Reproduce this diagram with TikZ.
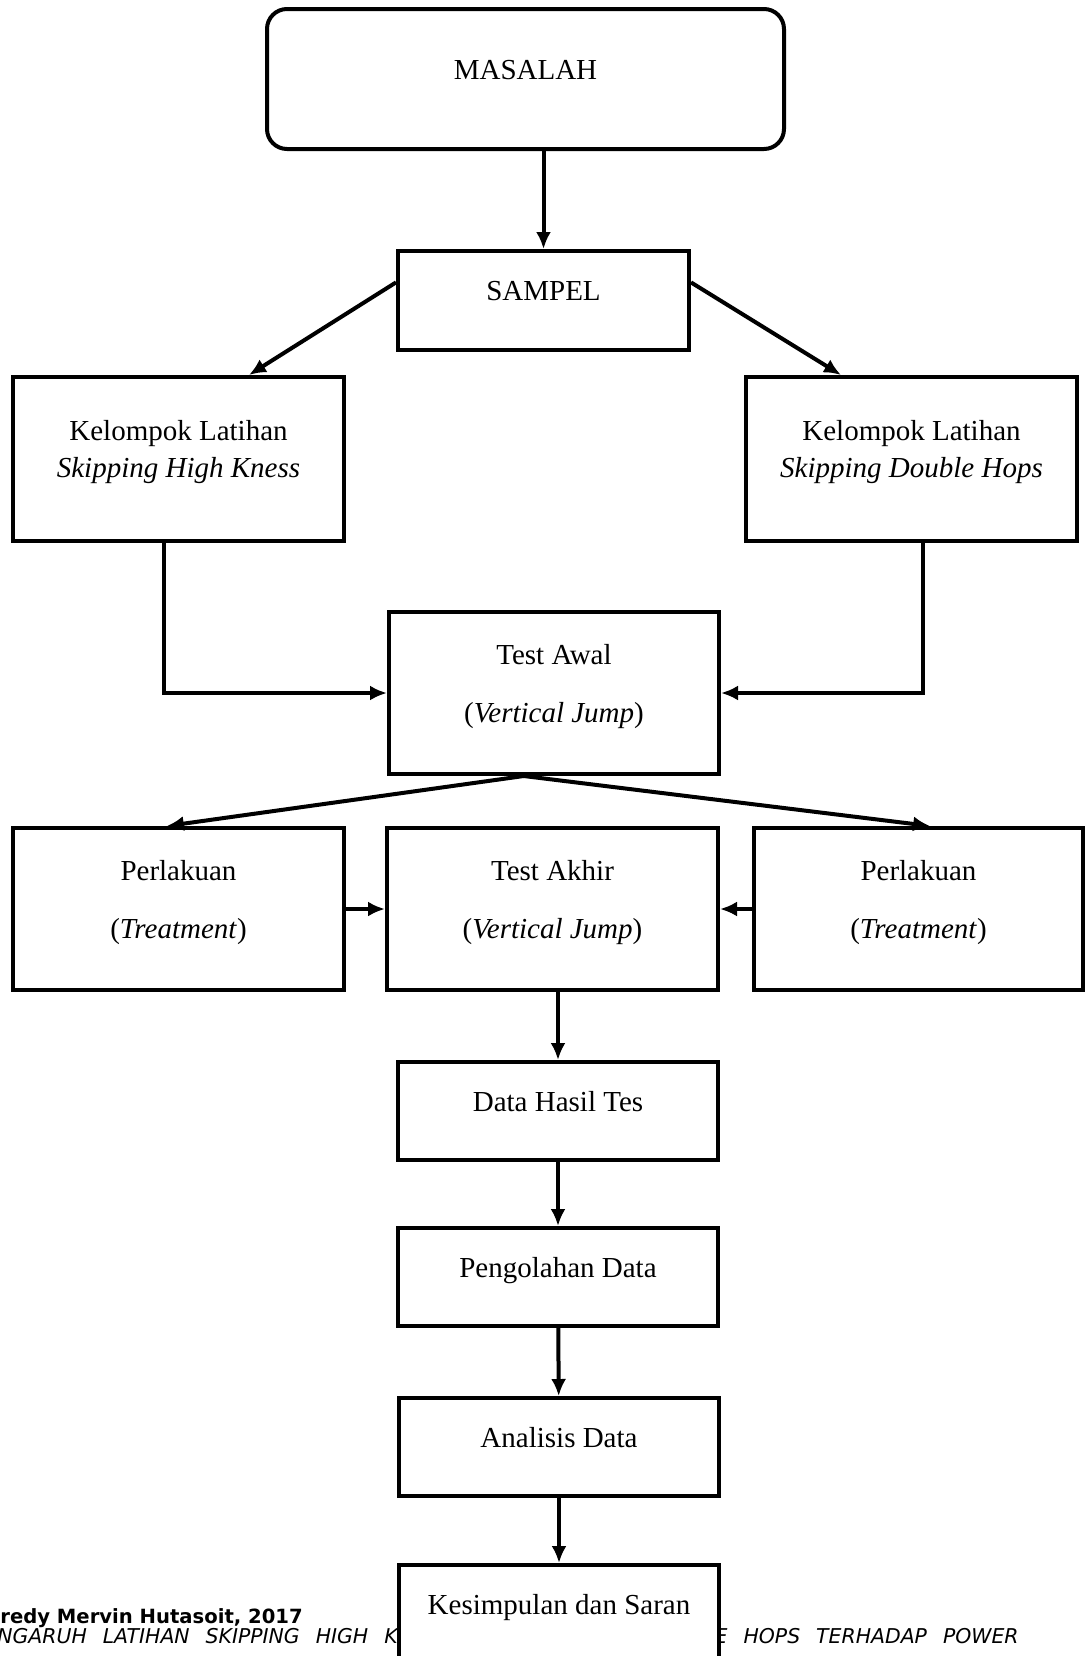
\documentclass[tikz,border=0pt]{standalone}
\usepackage{fontspec}
\setmainfont{Liberation Serif}
\newfontfamily\footfont{DejaVu Sans}
\usetikzlibrary{arrows.meta}

\begin{document}
\begin{tikzpicture}[x=0.5pt,y=-0.5pt,
  box/.style={draw,line width=2pt,fill=white,align=center,
    font=\fontsize{14.5}{18.5}\selectfont,text height=10pt,text depth=10pt},
  twoline/.style={box,text height=28.5pt},
  twowide/.style={box,text height=39pt},
  arr/.style={line width=2pt,-{Latex[length=8.5pt,width=7.5pt]}},
  foot/.style={inner sep=0pt,font=\footfont\fontsize{9.8}{12}\selectfont},
  judul/.style={inner sep=0pt,font=\footfont\itshape\fontsize{10.2}{12}\selectfont}]
\useasboundingbox (0,0) rectangle (1085,1656);
\clip (0,0) rectangle (1085,1656);

% footer of the page
\node[foot,anchor=base west] (penulis) at (0,1623) {\bfseries redy Mervin Hutasoit, 2017};
\node[judul,anchor=base west] (judulA) at (-3,1643) {\spaceskip=8pt NGARUH LATIHAN SKIPPING HIGH K};
\node[judul,anchor=base east] (judulB) at (1019,1643) {\spaceskip=8pt E HOPS TERHADAP POWER};

% boxes
\node[box,minimum width=258.5pt,minimum height=70pt,rounded corners=10pt] (masalah) at (525.5,79) {MASALAH};
\node[box,minimum width=145.5pt,minimum height=49.5pt] (sampel) at (543.5,300.5) {SAMPEL};
\node[twoline,minimum width=165.5pt,minimum height=82pt] (kelA) at (178.5,459) {Kelompok Latihan\\\textit{Skipping High Kness}};
\node[twoline,minimum width=165.5pt,minimum height=82pt] (kelB) at (911.5,459) {Kelompok Latihan\\\textit{Skipping Double Hops}};
\node[twowide,minimum width=165pt,minimum height=81pt] (awal) at (554,693) {Test Awal\\[10.5pt](\textit{Vertical Jump})};
\node[twowide,minimum width=165.5pt,minimum height=81pt] (perA) at (178.5,909) {Perlakuan\\[10.5pt](\textit{Treatment})};
\node[twowide,minimum width=165.5pt,minimum height=81pt] (akhir) at (552.5,909) {Test Akhir\\[10.5pt](\textit{Vertical Jump})};
\node[twowide,minimum width=164.5pt,minimum height=81pt] (perB) at (918.5,909) {Perlakuan\\[10.5pt](\textit{Treatment})};
\node[box,minimum width=160pt,minimum height=49pt] (data) at (558,1111) {Data Hasil Tes};
\node[box,minimum width=160pt,minimum height=49pt] (olah) at (558,1277) {Pengolahan Data};
\node[box,minimum width=160pt,minimum height=49pt] (analisis) at (559,1447) {Analisis Data};
\node[box,minimum width=160pt,minimum height=49pt] (simpul) at (559,1614) {Kesimpulan dan Saran};

% arrows
\draw[arr] (masalah.south -| sampel.north) -- (sampel.north);
\draw[arr] (sampel.173) -- (kelA.50);
\draw[arr] (sampel.7) -- (kelB.130);
\draw[arr] (kelA.260) |- (awal.west);
\draw[arr] (kelB.278) |- (awal.east);
\draw[arr] (awal.250) -- (perA.98);
\draw[arr] (awal.250) -- (perB.82);
\draw[arr] (perA.east) -- (akhir.west);
\draw[arr] (perB.west) -- (akhir.east);
\draw[arr] (akhir.south -| data.north) -- (data.north);
\draw[arr] (data) -- (olah);
\draw[arr] (olah) -- (analisis);
\draw[arr] (analisis) -- (simpul);
\end{tikzpicture}
\end{document}
